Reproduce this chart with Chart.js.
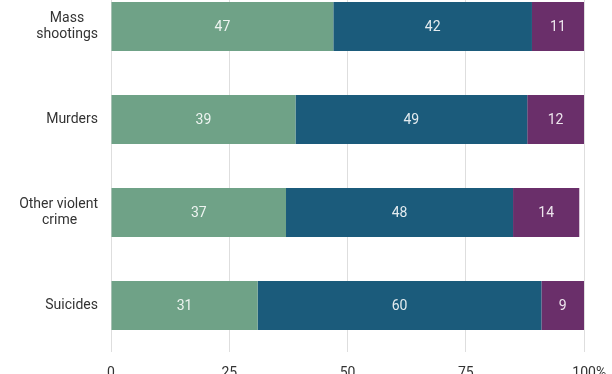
<!DOCTYPE html>
<html>
<head>
<meta charset="utf-8">
<script src="https://cdn.jsdelivr.net/npm/chart.js@4/dist/chart.umd.min.js"></script>
<style>
  body { margin: 0; background: #fff; overflow: hidden; }
  #wrap { position: relative; width: 612px; height: 374px; overflow: hidden; }
  #chart { position: absolute; left: 0; top: -20px; }
</style>
</head>
<body>
<div id="wrap"><canvas id="chart" width="612" height="394"></canvas></div>
<script>
// categories (trailing spaces keep short lines centred under the long one)
const categories = [
  ["Mass    ", "shootings"],
  "Murders",
  ["Other violent", "crime      "],
  "Suicides"
];
const seriesA = [47, 39, 37, 31];
const seriesB = [42, 49, 48, 60];
const seriesC = [11, 12, 14, 9];
const xTicks = [0, 25, 50, 75, 100];

const colA = "#6fa287";
const colB = "#1b5b7b";
const colC = "#6a2f6a";

// value labels in the middle of each segment
const segmentLabels = {
  id: "segmentLabels",
  afterDatasetsDraw(chart) {
    const ctx = chart.ctx;
    ctx.save();
    ctx.font = "14px Roboto";
    ctx.fillStyle = "rgba(255,255,255,0.88)";
    ctx.textAlign = "center";
    ctx.textBaseline = "middle";
    chart.data.datasets.forEach((ds, i) => {
      chart.getDatasetMeta(i).data.forEach((bar, j) => {
        const cx = (bar.x + bar.base) / 2;
        ctx.fillText(ds.data[j], cx, bar.y + 1);
      });
    });
    ctx.restore();
  }
};

function noPad(scale) {
  scale.paddingTop = 0;
  scale.paddingBottom = 0;
  scale.paddingLeft = 0;
  scale.paddingRight = 0;
}

new Chart(document.getElementById("chart"), {
  type: "bar",
  data: {
    labels: categories,
    datasets: [
      { data: seriesA, backgroundColor: colA },
      { data: seriesB, backgroundColor: colB },
      { data: seriesC, backgroundColor: colC }
    ]
  },
  options: {
    indexAxis: "y",
    responsive: false,
    animation: false,
    layout: { padding: { left: 0, right: 28, top: 0, bottom: 0 } },
    datasets: {
      bar: { categoryPercentage: 1, barPercentage: 0.525, borderWidth: 0 }
    },
    scales: {
      x: {
        stacked: true,
        min: 0,
        max: 100,
        afterBuildTicks(scale) {
          scale.ticks = xTicks.map(v => ({ value: v }));
        },
        afterFit(scale) { scale.height = 22; noPad(scale); },
        grid: { color: "#dedede", drawTicks: false },
        border: { display: false },
        ticks: {
          padding: 13,
          color: "#333",
          font: { family: "Roboto", size: 14 },
          maxRotation: 0,
          callback: v => (v === 100 ? "   100%" : v)
        }
      },
      y: {
        stacked: true,
        afterFit(scale) { scale.width = 111; noPad(scale); },
        grid: { display: false, drawTicks: false },
        border: { display: false },
        ticks: {
          padding: 13,
          color: "#333",
          font: { family: "Roboto", size: 14, lineHeight: 1.2 }
        }
      }
    },
    plugins: {
      legend: { display: false },
      tooltip: { enabled: false }
    }
  },
  plugins: [segmentLabels]
});
</script>
</body>
</html>
